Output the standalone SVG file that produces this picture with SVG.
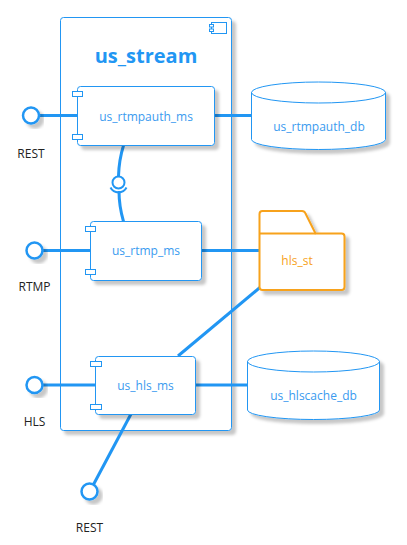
<svg xmlns="http://www.w3.org/2000/svg" width="407" height="545" viewBox="0 0 407 545">
<defs>
<filter id="sh" x="-20%" y="-20%" width="150%" height="150%">
<feDropShadow dx="4" dy="4" stdDeviation="1.5" flood-color="#000" flood-opacity="0.22"/>
</filter>
</defs>
<style>
.b{fill:#fff;stroke:#2196F3;stroke-width:1}
.tab{fill:#fff;stroke:#2196F3;stroke-width:1}
.ln{fill:none;stroke:#2196F3;stroke-width:3}
.ball{fill:#fff;stroke:#2196F3;stroke-width:2.5}
.t{font-family:"Open Sans","Noto Sans",sans-serif;font-size:12px;fill:#3a9bef;text-anchor:middle}
.lb{font-family:"Open Sans","Noto Sans",sans-serif;font-size:12px;fill:#222;text-anchor:middle}
.title{font-family:"Open Sans","Noto Sans",sans-serif;font-size:20px;font-weight:bold;fill:#2196F3;text-anchor:middle}
</style>
<rect x="0" y="0" width="407" height="545" fill="#fff"/>
<g id="us_stream">
<rect x="60.5" y="17.5" width="171" height="413" rx="3" class="b" filter="url(#sh)"/>
<rect x="211.5" y="22.5" width="15" height="11" class="tab"/>
<rect x="209.5" y="24.5" width="4" height="2.5" class="tab"/>
<rect x="209.5" y="29" width="4" height="2.5" class="tab"/>
<text x="146" y="63" class="title">us_stream</text>
</g>
<g id="connectors">
<line x1="39" y1="115.5" x2="77.5" y2="115.5" class="ln"/>
<line x1="214.5" y1="115.5" x2="251" y2="115.5" class="ln"/>
<path d="M123.5,145.5 Q119,160 118.5,176" class="ln"/>
<path d="M119,191 Q119,206 123.5,221.5" class="ln"/>
<line x1="42.5" y1="250.5" x2="90.5" y2="250.5" class="ln"/>
<line x1="201.5" y1="250.5" x2="259" y2="250.5" class="ln"/>
<line x1="178" y1="356" x2="260.5" y2="287" class="ln"/>
<line x1="42.5" y1="385" x2="95.5" y2="385" class="ln"/>
<line x1="195.5" y1="385" x2="247.5" y2="385" class="ln"/>
<line x1="131" y1="414" x2="93.5" y2="484.5" class="ln"/>
</g>
<g id="iface_rest1">
<circle cx="31" cy="115.5" r="8" class="ball" filter="url(#sh)"/>
<text x="31" y="158" class="lb">REST</text>
</g>
<g id="iface_rtmp">
<circle cx="34.5" cy="250.5" r="8" class="ball" filter="url(#sh)"/>
<text x="34.5" y="291" class="lb">RTMP</text>
</g>
<g id="iface_hls">
<circle cx="34.5" cy="385" r="8" class="ball" filter="url(#sh)"/>
<text x="34.5" y="426" class="lb">HLS</text>
</g>
<g id="iface_rest2">
<circle cx="89.5" cy="491.5" r="8" class="ball" filter="url(#sh)"/>
<text x="89.5" y="532" class="lb">REST</text>
</g>
<g id="lollipop">
<circle cx="118.5" cy="182.5" r="6" fill="#fff" stroke="#2196F3" stroke-width="2"/>
<path d="M110.5,187.5 A9,9 0 0 0 126.5,187.5" fill="none" stroke="#2196F3" stroke-width="2"/>
</g>
<g id="us_rtmpauth_ms">
<rect x="77.5" y="86.5" width="137" height="59" rx="3" class="b" filter="url(#sh)"/>
<rect x="72.5" y="91.5" width="10" height="5" class="tab"/>
<rect x="72.5" y="134.5" width="10" height="5" class="tab"/>
<text x="146" y="121" class="t">us_rtmpauth_ms</text>
</g>
<g id="us_rtmp_ms">
<rect x="90.5" y="221.5" width="111" height="59" rx="3" class="b" filter="url(#sh)"/>
<rect x="85.5" y="226.5" width="10" height="5" class="tab"/>
<rect x="85.5" y="269.5" width="10" height="5" class="tab"/>
<text x="146" y="255" class="t">us_rtmp_ms</text>
</g>
<g id="us_hls_ms">
<rect x="95.5" y="356.5" width="100" height="58" rx="3" class="b" filter="url(#sh)"/>
<rect x="90.5" y="361.5" width="11" height="5" class="tab"/>
<rect x="90.5" y="404.5" width="11" height="5" class="tab"/>
<text x="145.5" y="390" class="t">us_hls_ms</text>
</g>
<g id="us_rtmpauth_db">
<path d="M251.5,92.5 A67,10.5 0 0 1 385.5,92.5 L385.5,139.5 A67,10 0 0 1 251.5,139.5 Z" class="b" filter="url(#sh)"/>
<path d="M251.5,92.5 A67,10.5 0 0 0 385.5,92.5" fill="none" stroke="#2196F3"/>
<text x="319" y="131" class="t">us_rtmpauth_db</text>
</g>
<g id="hls_st">
<path d="M259.5,233.5 L259.5,214 Q259.5,211 262.5,211 L302,211 Q304.5,211 305.5,213.5 L315.5,233.5 L341.5,233.5 Q344.5,233.5 344.5,236.5 L344.5,287 Q344.5,290 341.5,290 L262.5,290 Q259.5,290 259.5,287 Z" fill="#fff" stroke="#F7A21B" stroke-width="2" filter="url(#sh)"/>
<line x1="259.5" y1="233.5" x2="315.5" y2="233.5" stroke="#F7A21B" stroke-width="2"/>
<text x="297" y="265" class="t" style="fill:#F7A21B">hls_st</text>
</g>
<g id="us_hlscache_db">
<path d="M247.5,361.5 A66,10.5 0 0 1 379.5,361.5 L379.5,410 A66,9.5 0 0 1 247.5,410 Z" class="b" filter="url(#sh)"/>
<path d="M247.5,361.5 A66,10.5 0 0 0 379.5,361.5" fill="none" stroke="#2196F3"/>
<text x="313.5" y="399.5" class="t">us_hlscache_db</text>
</g>
</svg>
